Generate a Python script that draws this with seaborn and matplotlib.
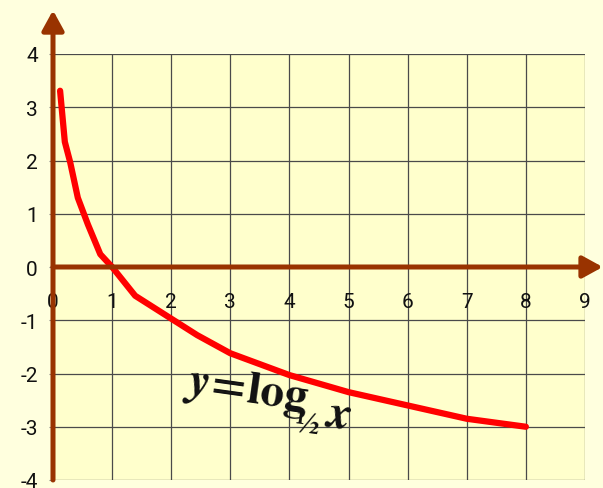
import numpy as np
import pandas as pd
import seaborn as sns
from matplotlib import pyplot as plt

curve_x = [0.12, 0.2, 0.29, 0.42, 0.59, 0.8, 1.0, 1.39, 2.0, 2.44, 3.0, 4.0, 5.0, 6.0, 7.0, 8.0]
curve_y = [3.31, 2.35, 1.97, 1.30, 0.80, 0.24, 0.0, -0.54, -0.97, -1.28, -1.62, -2.03, -2.35, -2.6, -2.85, -3.0]
x_ticks = list(range(0, 10))
y_ticks = list(range(-4, 5))

brown = '#993300'
sns.set_theme(style='white')
plt.rcParams['font.family'] = ['Roboto', 'DejaVu Sans']
plt.rcParams['axes.unicode_minus'] = False
plt.rcParams['mathtext.fontset'] = 'custom'
plt.rcParams['mathtext.rm'] = 'STIXGeneral:bold'
plt.rcParams['mathtext.it'] = 'STIXGeneral:bold:italic'

fig = plt.figure(figsize=(6.03, 4.89), dpi=100, facecolor='#ffffde')
ax = fig.add_axes([53 / 603, 8 / 489, 532 / 603, 426 / 489])
ax.set_facecolor('#ffffcc')

df = pd.DataFrame({'x': curve_x, 'y': curve_y})
sns.lineplot(data=df, x='x', y='y', sort=False, estimator=None, color='#ff0000',
             linewidth=4.5, solid_capstyle='round', solid_joinstyle='round', ax=ax, zorder=5)

ax.set_xlim(0, 9)
ax.set_ylim(-4, 4)
ax.set_xticks(x_ticks)
ax.set_yticks(y_ticks)
ax.grid(True, color='#4a4a4a', linewidth=0.9)
ax.set_xlabel('')
ax.set_ylabel('')
for s in ['top', 'right', 'left', 'bottom']:
    ax.spines[s].set_visible(False)
ax.spines['bottom'].set_position(('data', 0))

ax.tick_params(axis='x', length=0, pad=18, labelsize=15, colors='#111111')
ax.tick_params(axis='y', left=True, length=3, width=0.8, color='#888888', pad=8,
               labelsize=15, labelcolor='#111111')

# axes with arrows
arrow = dict(arrowstyle='-|>,head_length=1.0,head_width=0.55', lw=3.6, color=brown,
             mutation_scale=12, shrinkA=0, shrinkB=0)
ax.annotate('', xy=(0, 4.82), xytext=(0, -4), arrowprops=arrow, annotation_clip=False, zorder=6)
ax.annotate('', xy=(9.3, 0), xytext=(0, 0), arrowprops=arrow, annotation_clip=False, zorder=6)

# curve label, in three pieces
lab = dict(color='#111111', rotation=-8, rotation_mode='anchor', ha='left', va='baseline', zorder=7)
ax.text(2.2, -2.35, r'$y\!=\!\mathrm{log}$', fontsize=34, **lab)
ax.text(4.08, -3.07, '½', fontsize=21, fontfamily='STIXGeneral', fontweight='bold', **lab)
ax.text(4.58, -2.95, r'$x$', fontsize=34, **lab)

plt.savefig('out.png', dpi=100, facecolor=fig.get_facecolor())
